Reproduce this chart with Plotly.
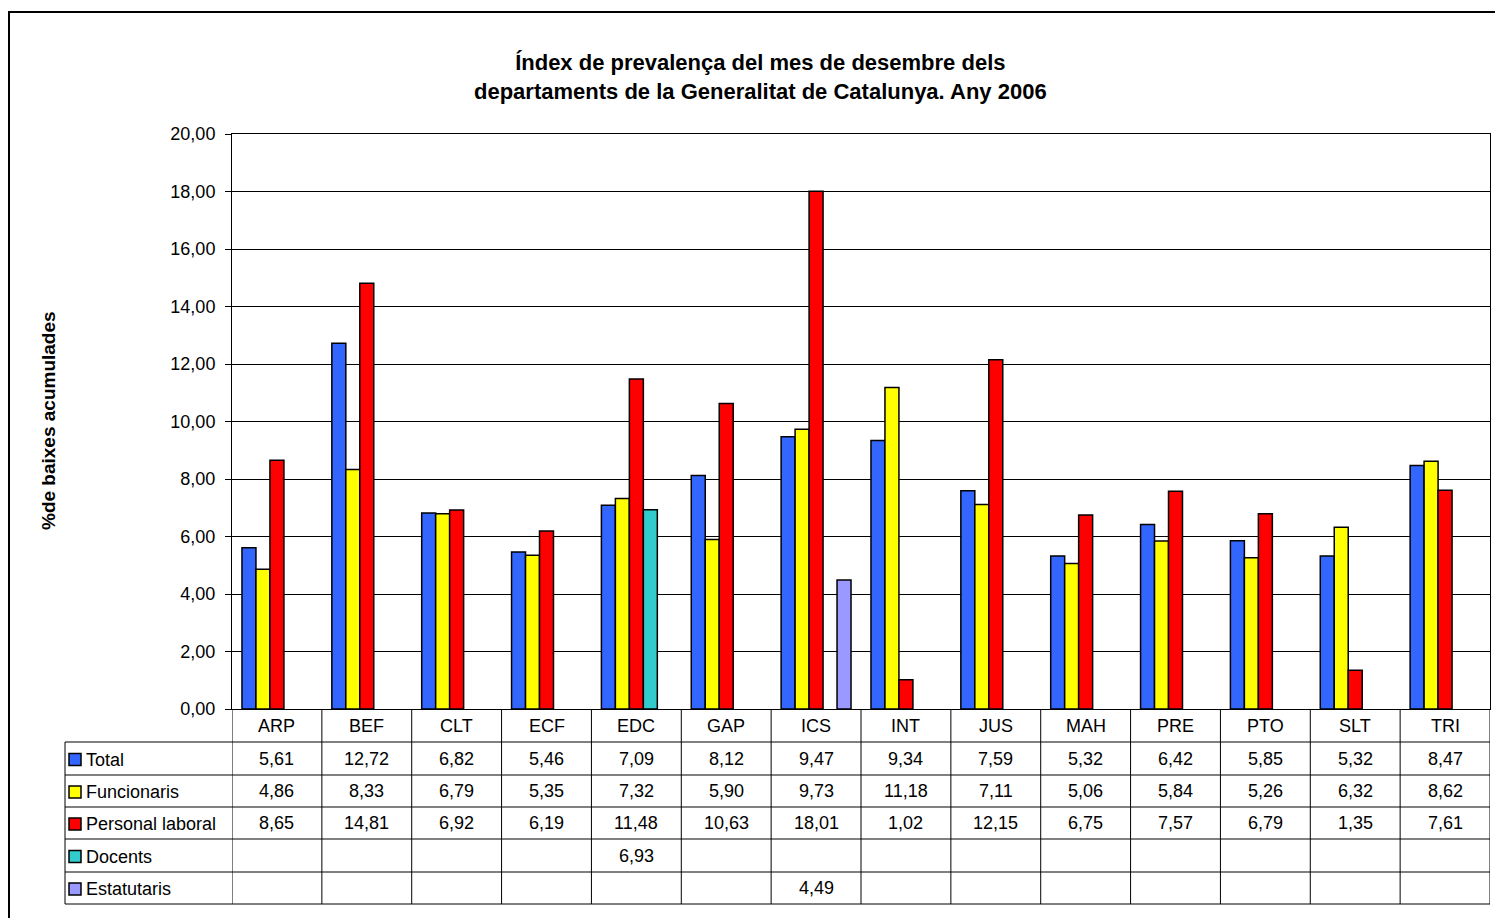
import plotly.graph_objects as go

categories = ["ARP", "BEF", "CLT", "ECF", "EDC", "GAP", "ICS", "INT", "JUS", "MAH", "PRE", "PTO", "SLT", "TRI"]
total = [5.61, 12.72, 6.82, 5.46, 7.09, 8.12, 9.47, 9.34, 7.59, 5.32, 6.42, 5.85, 5.32, 8.47]
funcionaris = [4.86, 8.33, 6.79, 5.35, 7.32, 5.90, 9.73, 11.18, 7.11, 5.06, 5.84, 5.26, 6.32, 8.62]
personal_laboral = [8.65, 14.81, 6.92, 6.19, 11.48, 10.63, 18.01, 1.02, 12.15, 6.75, 7.57, 6.79, 1.35, 7.61]
docents = [None, None, None, None, 6.93, None, None, None, None, None, None, None, None, None]
estatutaris = [None, None, None, None, None, None, 4.49, None, None, None, None, None, None, None]

series_names = ["Total", "Funcionaris", "Personal laboral", "Docents", "Estatutaris"]
series_values = [total, funcionaris, personal_laboral, docents, estatutaris]
series_colors = ["#3366FF", "#FFFF00", "#FF0000", "#33CCCC", "#9999FF"]

title_lines = ["Índex de prevalença del mes de desembre dels",
               "departaments de la Generalitat de Catalunya. Any 2006"]
y_title = "%de baixes acumulades"
y_ticks = [0, 2, 4, 6, 8, 10, 12, 14, 16, 18, 20]

FONT = "Arial, Liberation Sans, sans-serif"
OFF = 8  # page body margin
W, H = 1503 - OFF, 918 - OFF
# plot area in page pixels
L, R, T, B = 232, 1490, 134, 709


def px2x(px):
    return (px - L) / (R - L)


def py2y(py):
    return (B - py) / (B - T)


def fmt(v):
    return f"{v:.2f}".replace(".", ",")


fig = go.Figure()
for name, vals, col in zip(series_names, series_values, series_colors):
    fig.add_trace(go.Bar(
        x=categories, y=vals, name=name,
        marker=dict(color=col, line=dict(color="black", width=1.5)),
        showlegend=False,
    ))

shapes = []
annotations = []

# outer chart border
shapes.append(dict(type="rect", xref="paper", yref="paper",
                   x0=px2x(9), x1=px2x(1520), y0=py2y(940), y1=py2y(12),
                   line=dict(color="black", width=2), fillcolor="rgba(0,0,0,0)", layer="below"))

# data table geometry
row_bounds = [709, 742, 775, 807, 839, 872, 904]
n = len(categories)
for i in range(n + 1):
    shapes.append(dict(type="line", xref="x", yref="paper",
                       x0=i - 0.5, x1=i - 0.5, y0=py2y(row_bounds[0]), y1=py2y(row_bounds[-1]),
                       line=dict(color="black", width=1)))
shapes.append(dict(type="line", xref="paper", yref="paper",
                   x0=px2x(65), x1=px2x(65), y0=py2y(row_bounds[1]), y1=py2y(row_bounds[-1]),
                   line=dict(color="black", width=1)))
for rb in row_bounds[1:]:
    shapes.append(dict(type="line", xref="paper", yref="paper",
                       x0=px2x(65), x1=1, y0=py2y(rb), y1=py2y(rb),
                       line=dict(color="black", width=1)))

cat_center = (row_bounds[0] + row_bounds[1]) / 2
for c in categories:
    annotations.append(dict(x=c, xref="x", y=py2y(cat_center), yref="paper",
                            text=c, showarrow=False, xanchor="center", yanchor="middle",
                            font=dict(family=FONT, size=18, color="black")))

for r, (name, vals, col) in enumerate(zip(series_names, series_values, series_colors)):
    top, bot = row_bounds[r + 1], row_bounds[r + 2]
    cy = (top + bot) / 2 + 1
    shapes.append(dict(type="rect", xref="paper", yref="paper",
                       x0=px2x(69), x1=px2x(81), y0=py2y(cy + 6), y1=py2y(cy - 6),
                       fillcolor=col, line=dict(color="black", width=1.5)))
    annotations.append(dict(x=px2x(84), xref="paper", y=py2y(cy), yref="paper",
                            text=name, showarrow=False, xanchor="left", yanchor="middle",
                            font=dict(family=FONT, size=18, color="black")))
    for c, v in zip(categories, vals):
        if v is None:
            continue
        annotations.append(dict(x=c, xref="x", y=py2y(cy - 1), yref="paper",
                                text=fmt(v), showarrow=False, xanchor="center", yanchor="middle",
                                font=dict(family=FONT, size=18, color="black")))

annotations.append(dict(x=px2x(760), xref="paper", y=py2y(77), yref="paper",
                        text="<br>".join(title_lines), showarrow=False,
                        xanchor="center", yanchor="middle",
                        font=dict(family=FONT, size=22, color="black", weight="bold")))
annotations.append(dict(x=px2x(48), xref="paper", y=py2y(421), yref="paper",
                        text=y_title, showarrow=False, textangle=-90,
                        xanchor="center", yanchor="middle",
                        font=dict(family=FONT, size=19, color="black", weight="bold")))

fig.update_layout(
    width=W, height=H,
    margin=dict(l=L - OFF, r=W - (R - OFF), t=T - OFF, b=H - (B - OFF), pad=0),
    paper_bgcolor="white", plot_bgcolor="white",
    barmode="group", bargap=20 / 90, bargroupgap=0,
    separators=",.",
    shapes=shapes, annotations=annotations,
    font=dict(family=FONT, size=18, color="black"),
)
fig.update_xaxes(type="category", range=[-0.5, n - 0.5], showticklabels=False,
                 showline=True, mirror=True, linecolor="black", linewidth=1,
                 showgrid=False, ticks="", zeroline=False)
fig.update_yaxes(range=[0, 20], tickvals=y_ticks, tickformat=".2f",
                 showline=True, mirror=True, linecolor="black", linewidth=1,
                 showgrid=True, gridcolor="black", gridwidth=1,
                 ticks="outside", ticklen=6, tickcolor="black", tickwidth=1,
                 ticklabelstandoff=6,
                 tickfont=dict(family=FONT, size=18, color="black"), zeroline=False)

fig.write_html("out.html")
